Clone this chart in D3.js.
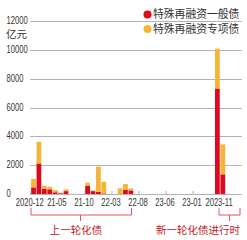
<!DOCTYPE html>
<html>
<head>
<meta charset="utf-8">
<script src="https://cdn.jsdelivr.net/npm/d3@7"></script>
<style>
  body { margin: 0; background: #fff; }
  .num { font-family: "Liberation Sans", Arial, sans-serif; font-size: 10px; fill: #333; }
  .cn { font-family: "Noto Sans CJK SC", sans-serif; }
</style>
</head>
<body>
<svg id="chart"></svg>
<script>
// months 2020-12 .. 2023-11
const months = [
  '2020-12','2021-01','2021-02','2021-03','2021-04','2021-05','2021-06','2021-07','2021-08','2021-09',
  '2021-10','2021-11','2021-12','2022-01','2022-02','2022-03','2022-04','2022-05','2022-06','2022-07',
  '2022-08','2022-09','2022-10','2022-11','2022-12','2023-01','2023-02','2023-03','2023-04','2023-05',
  '2023-06','2023-07','2023-08','2023-09','2023-10','2023-11'
];
// 特殊再融资一般债 (亿元)
const generalBond = [
  460, 2120, 350, 325, 120, 50, 200, 0, 0, 0,
  560, 200, 150, 40, 0, 0, 0, 280, 250, 0,
  0, 0, 0, 0, 0, 0, 0, 0, 0, 0,
  0, 0, 0, 0, 7320, 1365
];
// 特殊再融资专项债 (亿元)
const specialBond = [
  580, 1500, 225, 180, 160, 40, 125, 0, 0, 0,
  220, 50, 1740, 810, 0, 0, 390, 410, 140, 0,
  0, 0, 0, 0, 0, 0, 0, 0, 0, 0,
  0, 0, 0, 0, 2760, 2075
];
const yTicks = [0, 2000, 4000, 6000, 8000, 10000, 12000];
// tick label text as printed under every 5th month
const xTickIdx = [0, 5, 10, 15, 20, 25, 30, 35];
const xTickLabels = ['2020-12', '21-05', '21-10', '22-03', '22-08', '23-06', '23-01', '2023-11'];
const seriesNames = ['特殊再融资一般债', '特殊再融资专项债'];

const RED = '#dc0a1e', ORANGE = '#f6b537';
const NARROW = 0.76; // condensed look of the numbers

const W = 247, H = 240;
const svg = d3.select('#chart').attr('width', W).attr('height', H);

const data = months.map((m, i) => ({ month: m, g: generalBond[i], s: specialBond[i] }));

const x = d3.scaleBand().domain(months).range([30.8, 225.5]).paddingInner(0.12).paddingOuter(0.06);
const y = d3.scaleLinear().domain([0, 12000]).range([194, 21]);

// grid lines
svg.append('g').selectAll('line')
  .data(yTicks)
  .join('line')
    .attr('x1', 30).attr('x2', 242)
    .attr('y1', d => Math.round(y(d)) + 0.5).attr('y2', d => Math.round(y(d)) + 0.5)
    .attr('stroke', '#b3b3b3').attr('stroke-width', 1);

// y labels, left aligned
svg.append('g').selectAll('text')
  .data(yTicks)
  .join('text')
    .attr('class', 'num')
    .attr('transform', d => `translate(6.5,${y(d) - 0.5}) scale(${NARROW},1)`)
    .attr('dy', '0.35em')
    .text(d => d);

svg.append('text').attr('class', 'cn')
  .attr('x', 6).attr('y', 37.5)
  .style('font-size', '10.5px').attr('fill', '#333')
  .text('亿元');

// stacked bars
const stack = d3.stack().keys(['g', 's'])(data);
const colors = [RED, ORANGE];
svg.append('g').selectAll('g')
  .data(stack)
  .join('g')
    .attr('fill', (d, i) => colors[i])
  .selectAll('rect')
  .data(d => d.filter(p => p[1] > p[0]))
  .join('rect')
    .attr('x', d => x(d.data.month))
    .attr('width', x.bandwidth())
    .attr('y', d => y(d[1]))
    .attr('height', d => y(d[0]) - y(d[1]));

// x ticks at band starts
const step = x.step();
const bandStart = i => x(months[i]) - x.paddingInner() * step / 2;
svg.append('g').selectAll('line')
  .data(xTickIdx)
  .join('line')
    .attr('x1', i => bandStart(i)).attr('x2', i => bandStart(i))
    .attr('y1', 191).attr('y2', 194)
    .attr('stroke', '#999').attr('stroke-width', 0.8);

svg.append('g').selectAll('text')
  .data(xTickIdx)
  .join('text')
    .attr('class', 'num')
    .attr('transform', i => `translate(${bandStart(i) - 1},205.5) scale(${NARROW},1)`)
    .attr('text-anchor', 'middle')
    .text((d, i) => xTickLabels[i]);

// legend
const legend = svg.append('g');
seriesNames.forEach((name, i) => {
  const ly = 14.5 + i * 14.5;
  legend.append('circle').attr('cx', 147.5).attr('cy', ly).attr('r', 4).attr('fill', colors[i]);
  legend.append('text').attr('class', 'cn')
    .attr('x', 153).attr('y', ly).attr('dy', '0.36em')
    .style('font-size', '10.8px').attr('fill', '#333')
    .text(name);
});

// brackets
const BR = '#d9454f';
function bracket(x0, x1, xm, label, tx, anchor) {
  const g = svg.append('g').attr('fill', 'none').attr('stroke', BR).attr('stroke-width', 0.9);
  g.append('path').attr('d', `M${x0},208V215H${x1}V208`);
  g.append('path').attr('d', `M${xm},215V221`);
  svg.append('text').attr('class', 'cn')
    .attr('x', tx).attr('y', 233.5)
    .attr('text-anchor', anchor)
    .style('font-size', '10.5px').attr('fill', '#c8161d')
    .text(label);
}
bracket(31, 131.5, 80.5, '上一轮化债', 76, 'middle');
bracket(219, 240, 229.5, '新一轮化债进行时', 240, 'end');
</script>
</body>
</html>
